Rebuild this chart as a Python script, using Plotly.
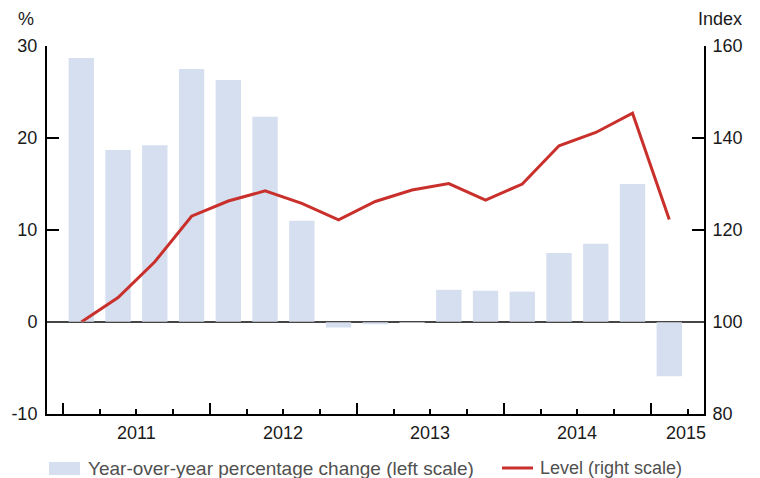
import plotly.graph_objects as go

# quarterly data, 2011Q1 .. 2015Q1
quarters = ["2011Q1", "2011Q2", "2011Q3", "2011Q4",
            "2012Q1", "2012Q2", "2012Q3", "2012Q4",
            "2013Q1", "2013Q2", "2013Q3", "2013Q4",
            "2014Q1", "2014Q2", "2014Q3", "2014Q4",
            "2015Q1"]
yoy_change = [28.7, 18.7, 19.2, 27.5, 26.3, 22.3, 11.0, -0.6, -0.25,
              -0.1, 3.5, 3.4, 3.3, 7.5, 8.5, 15.0, -5.9]
level = [100.0, 105.3, 113.1, 123.0, 126.3, 128.5, 125.8, 122.2, 126.2,
         128.7, 130.1, 126.5, 130.0, 138.3, 141.2, 145.4, 122.3]
year_labels = ["2011", "2012", "2013", "2014", "2015"]
year_pos = [1.5, 5.5, 9.5, 13.5, 16.45]
left_ticks = [-10, 0, 10, 20, 30]
right_ticks = [80, 100, 120, 140, 160]

x = list(range(len(quarters)))
FONT = "Liberation Sans, Arial, sans-serif"
BAR = "#d5dff0"
RED = "#c9302c"

fig = go.Figure()
fig.add_trace(go.Bar(x=x, y=yoy_change, marker_color=BAR, marker_line_width=0,
                     name="Year-over-year percentage change (left scale)",
                     showlegend=False, hovertext=quarters))
fig.add_trace(go.Scatter(x=x, y=level, yaxis="y2", mode="lines",
                         line=dict(color=RED, width=3),
                         name="Level (right scale)", showlegend=False,
                         hovertext=quarters))

# the page has a body margin and a scrollbar strip on the right,
# so the figure is kept a bit narrower than the window
fig.update_layout(
    width=736, height=470,
    margin=dict(l=39, r=40, t=38, b=64, autoexpand=False),
    paper_bgcolor="white", plot_bgcolor="white",
    bargap=0.31,
    font=dict(family=FONT, size=18, color="#1a1a1a"),
    xaxis=dict(range=[-0.934, 16.945], showgrid=False, zeroline=False,
               automargin=False,
               showline=True, linecolor="black", linewidth=2,
               tickmode="array", tickvals=[-0.5, 3.5, 7.5, 11.5, 15.5],
               ticks="inside", ticklen=11, tickwidth=1.5, tickcolor="black",
               showticklabels=False,
               minor=dict(tickvals=[i - 0.5 for i in range(len(quarters) + 1)],
                          ticks="inside", ticklen=5, tickwidth=1.5,
                          tickcolor="black")),
    yaxis=dict(range=[-10, 30], tickmode="array", tickvals=left_ticks,
               ticktext=[str(v) for v in left_ticks], showgrid=False,
               automargin=False,
               zeroline=True, zerolinecolor="black", zerolinewidth=2,
               showline=True, linecolor="black", linewidth=2,
               ticks="inside", ticklen=12, tickwidth=2, tickcolor="black",
               ticklabelstandoff=4),
    yaxis2=dict(range=[80, 160], tickmode="array", tickvals=right_ticks,
                ticktext=[str(v) for v in right_ticks],
                overlaying="y", side="right", automargin=False,
                showgrid=False, zeroline=False,
                showline=True, linecolor="black", linewidth=2,
                ticks="inside", ticklen=12, tickwidth=2, tickcolor="black",
                ticklabelstandoff=3),
)

# zero line showing through the bars
fig.add_shape(type="line", xref="paper", yref="y", x0=0, x1=1, y0=0, y1=0,
              line=dict(color="#8a8a8a", width=1), layer="above")

for lab, pos in zip(year_labels, year_pos):
    fig.add_annotation(x=pos, y=0, xref="x", yref="paper", text=lab,
                       showarrow=False, yanchor="top", yshift=-7)

fig.add_annotation(x=-0.032, y=1.0734, xref="paper", yref="paper", text="%",
                   showarrow=False, xanchor="center", yanchor="middle")
fig.add_annotation(x=1.0609, y=1.0734, xref="paper", yref="paper", text="Index",
                   showarrow=False, xanchor="right", yanchor="middle")

# legend drawn by hand below the plot
fig.add_shape(type="rect", xref="paper", yref="paper",
              x0=0.003, x1=0.0502, y0=-0.1658, y1=-0.1304,
              fillcolor=BAR, line_width=0)
fig.add_annotation(x=0.0594, y=-0.148, xref="paper", yref="paper",
                   text="Year-over-year percentage change (left scale)",
                   showarrow=False, xanchor="left", yanchor="middle",
                   font=dict(size=19, color="#505050"))
fig.add_shape(type="line", xref="paper", yref="paper",
              x0=0.6925, x1=0.7397, y0=-0.1467, y1=-0.1467,
              line=dict(color=RED, width=3))
fig.add_annotation(x=0.7473, y=-0.148, xref="paper", yref="paper",
                   text="Level (right scale)",
                   showarrow=False, xanchor="left", yanchor="middle",
                   font=dict(size=18, color="#505050"))

fig.write_html("out.html")
